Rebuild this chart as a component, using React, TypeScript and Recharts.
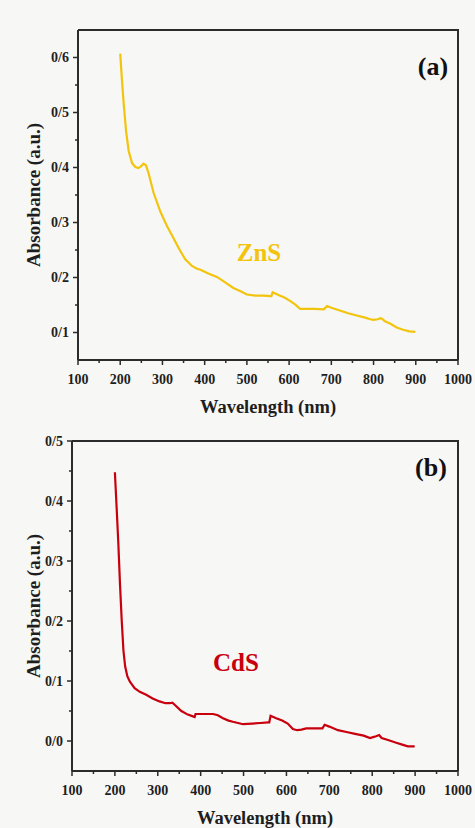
import React from "react";
import { Label, Line, LineChart, XAxis, YAxis } from "recharts";

const FONT = "'Liberation Serif', 'Times New Roman', serif";
const AXIS = "#2b2b2b";
const ZNS_COLOR = "#F2C40E";
const CDS_COLOR = "#C8000E";
const BG = "#f7f7f6";

const CHART_W = 475;
const RIGHT_GAP = 17;

// wavelength ticks every 50 nm, labels on the hundreds
const X_TICKS = [100, 150, 200, 250, 300, 350, 400, 450, 500, 550, 600, 650, 700, 750, 800, 850, 900, 950, 1000];
const Y_TICKS_A = [0.1, 0.15, 0.2, 0.25, 0.3, 0.35, 0.4, 0.45, 0.5, 0.55, 0.6];
const Y_TICKS_B = [0, 0.05, 0.1, 0.15, 0.2, 0.25, 0.3, 0.35, 0.4, 0.45, 0.5];

// (a) ZnS
const ZNS_WAVE = [200, 204, 208, 214, 220, 228, 236, 243, 249, 255, 261, 267, 279, 295, 311, 326, 338, 354, 370, 382, 390, 410, 429, 445, 468, 485, 500, 520, 540, 555, 558, 561, 575, 590, 603, 614, 626, 640, 660, 682, 690, 700, 720, 740, 760, 780, 792, 800, 810, 816, 820, 826, 840, 855, 870, 885, 899];
const ZNS_ABS = [0.607, 0.56, 0.518, 0.465, 0.43, 0.408, 0.401, 0.399, 0.402, 0.407, 0.404, 0.39, 0.354, 0.32, 0.293, 0.272, 0.254, 0.233, 0.221, 0.216, 0.214, 0.207, 0.201, 0.193, 0.181, 0.175, 0.169, 0.167, 0.167, 0.166, 0.166, 0.173, 0.168, 0.163, 0.157, 0.151, 0.143, 0.143, 0.143, 0.142, 0.148, 0.145, 0.14, 0.135, 0.131, 0.127, 0.124, 0.123, 0.124, 0.126, 0.125, 0.121, 0.116, 0.109, 0.105, 0.102, 0.101];

// (b) CdS
const CDS_WAVE = [200, 204, 208, 212, 216, 220, 224, 229, 235, 240, 246, 258, 273, 288, 304, 318, 328, 334, 340, 355, 370, 382, 386, 388, 400, 429, 440, 452, 465, 475, 499, 520, 540, 557, 560, 563, 576, 590, 603, 615, 625, 635, 646, 665, 684, 689, 700, 720, 740, 760, 780, 795, 800, 809, 816, 822, 835, 856, 870, 883, 899];
const CDS_ABS = [0.448, 0.39, 0.33, 0.26, 0.2, 0.15, 0.124, 0.108, 0.099, 0.094, 0.088, 0.082, 0.077, 0.071, 0.066, 0.063, 0.063, 0.064, 0.06, 0.05, 0.044, 0.041, 0.04, 0.045, 0.045, 0.045, 0.043, 0.038, 0.034, 0.032, 0.028, 0.029, 0.03, 0.031, 0.031, 0.042, 0.038, 0.034, 0.029, 0.02, 0.018, 0.019, 0.021, 0.021, 0.021, 0.027, 0.024, 0.018, 0.015, 0.012, 0.009, 0.005, 0.006, 0.008, 0.01, 0.005, 0.002, -0.003, -0.006, -0.009, -0.009];

const toRows = (w: number[], a: number[]) => w.map((x, i) => ({ w: x, a: a[i] }));

const textStyle = { fontFamily: FONT, fontWeight: 700, fill: "#1e1e1e" } as const;

function XTick(props: any) {
  const { x, y, payload } = props;
  const major = payload.value % 100 === 0;
  return (
    <g>
      <line x1={x} x2={x} y1={y} y2={y + (major ? 5 : 3)} stroke={AXIS} strokeWidth={1.5} />
      {major && (
        <text x={x} y={y + 19} textAnchor="middle" dominantBaseline="central" fontSize={14} style={textStyle}>
          {payload.value}
        </text>
      )}
    </g>
  );
}

function YTick(props: any) {
  const { x, y, payload } = props;
  const tenths = payload.value * 10;
  const major = Math.abs(tenths - Math.round(tenths)) < 1e-6;
  return (
    <g>
      <line x1={x} x2={x - (major ? 5 : 3)} y1={y} y2={y} stroke={AXIS} strokeWidth={1.5} />
      {major && (
        <text x={x - 9} y={y} textAnchor="end" dominantBaseline="central" fontSize={14} style={textStyle}>
          {`0/${Math.round(tenths)}`}
        </text>
      )}
    </g>
  );
}

function XTitle(props: any) {
  const vb = props.viewBox;
  return (
    <text x={vb.x + vb.width / 2} y={vb.y + 46.5} textAnchor="middle" dominantBaseline="central" fontSize={18.5} style={textStyle}>
      Wavelength (nm)
    </text>
  );
}

function YTitle(props: any) {
  const vb = props.viewBox;
  const cx = 33;
  const cy = vb.y + vb.height / 2;
  return (
    <text x={cx} y={cy} transform={`rotate(-90, ${cx}, ${cy})`} textAnchor="middle" dominantBaseline="central" fontSize={19} style={textStyle}>
      Absorbance (a.u.)
    </text>
  );
}

type PanelProps = {
  rows: { w: number; a: number }[];
  color: string;
  height: number;
  yDomain: [number, number];
  yTicks: number[];
  yWidth: number;
  xHeight: number;
  top: number;
};

function Panel({ rows, color, height, yDomain, yTicks, yWidth, xHeight, top }: PanelProps) {
  const frame = { stroke: AXIS, strokeWidth: 2 };
  const plotRight = CHART_W - RIGHT_GAP;
  return (
    <div style={{ position: "relative", width: CHART_W, height }}>
      <LineChart width={CHART_W} height={height} data={rows} margin={{ top, right: RIGHT_GAP, left: 0, bottom: 0 }}>
        <XAxis
          dataKey="w"
          type="number"
          domain={[100, 1000]}
          ticks={X_TICKS}
          interval={0}
          height={xHeight}
          tickSize={0}
          tickMargin={0}
          tick={<XTick />}
          axisLine={frame}
        >
          <Label content={<XTitle />} />
        </XAxis>
        <YAxis
          type="number"
          domain={yDomain}
          allowDataOverflow
          ticks={yTicks}
          interval={0}
          width={yWidth}
          tickSize={0}
          tickMargin={0}
          tick={<YTick />}
          axisLine={frame}
        >
          <Label content={<YTitle />} />
        </YAxis>
        <Line dataKey="a" type="linear" stroke={color} strokeWidth={2.2} dot={false} isAnimationActive={false} />
      </LineChart>
      {/* top and right edges of the plot box */}
      <div
        style={{
          position: "absolute",
          left: yWidth,
          top: top - 1,
          width: plotRight + 1 - yWidth,
          height: height - xHeight - top + 1,
          boxSizing: "border-box",
          borderTop: `2px solid ${AXIS}`,
          borderRight: `2px solid ${AXIS}`,
          pointerEvents: "none",
        }}
      />
    </div>
  );
}

const note = (extra: React.CSSProperties): React.CSSProperties => ({
  position: "absolute",
  fontFamily: FONT,
  fontWeight: 700,
  lineHeight: 1,
  transform: "translate(-50%, -50%)",
  whiteSpace: "nowrap",
  ...extra,
});

export default function App() {
  return (
    <div style={{ position: "absolute", left: 0, top: 0, width: 475, height: 828, background: BG, overflow: "hidden" }}>
      <div style={{ position: "absolute", left: 0, top: 0 }}>
        <Panel rows={toRows(ZNS_WAVE, ZNS_ABS)} color={ZNS_COLOR} height={420} yDomain={[0.05, 0.65]} yTicks={Y_TICKS_A} yWidth={78} xHeight={60} top={30} />
        <div style={note({ left: 433, top: 67, fontSize: 26, color: "#111" })}>(a)</div>
        <div style={note({ left: 259, top: 252, fontSize: 25, color: ZNS_COLOR })}>ZnS</div>
      </div>
      <div style={{ position: "absolute", left: 0, top: 420 }}>
        <Panel rows={toRows(CDS_WAVE, CDS_ABS)} color={CDS_COLOR} height={408} yDomain={[-0.05, 0.5]} yTicks={Y_TICKS_B} yWidth={72} xHeight={57} top={21} />
        <div style={note({ left: 431, top: 48, fontSize: 26, color: "#111" })}>(b)</div>
        <div style={note({ left: 236, top: 242, fontSize: 25, color: CDS_COLOR })}>CdS</div>
      </div>
    </div>
  );
}
